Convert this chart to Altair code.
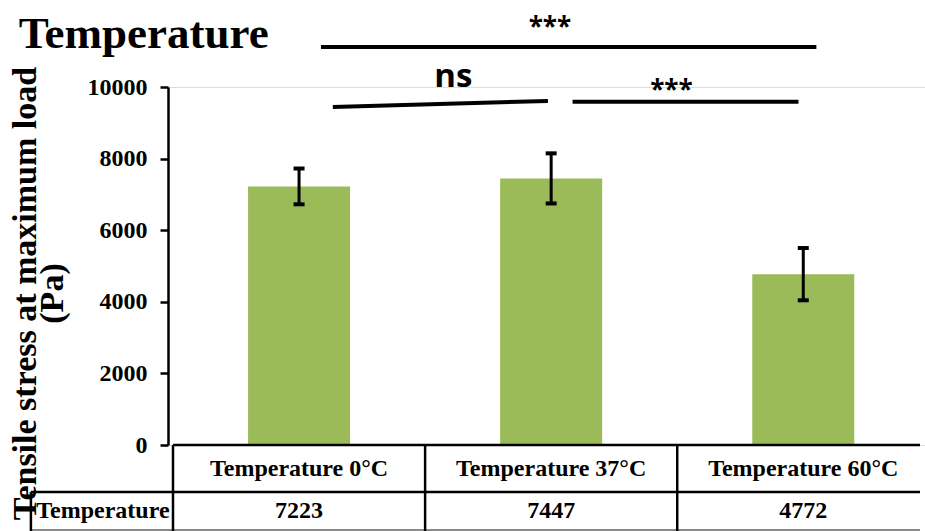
import altair as alt
import pandas as pd

# ---- data ----
chart_title = "Temperature"
categories = ["Temperature 0°C", "Temperature 37°C", "Temperature 60°C"]
means = [7223, 7447, 4772]
errors = [500, 700, 730]
y_ticks = [0, 2000, 4000, 6000, 8000, 10000]
row_label = "Temperature"

# significance brackets (x in category units, y in Pa units)
sig_x1 = [0.587, 0.634, 1.585]
sig_x2 = [2.552, 1.487, 2.481]
sig_y1 = [11120, 9440, 9590]
sig_y2 = [11120, 9610, 9590]
sig_text = ["***", "ns", "***"]
sig_tx = [1.495, 1.112, 1.977]
sig_ty = [11650, 10280, 9880]

XMAX = 2.963
SERIF = "Liberation Serif"
SANS = "Open Sans"

df = pd.DataFrame({
    "cat": categories,
    "pos": [i + 0.5 for i in range(len(categories))],
    "mean": means,
    "lo": [m - e for m, e in zip(means, errors)],
    "hi": [m + e for m, e in zip(means, errors)],
    "val": [str(m) for m in means],
})
sig_lines = pd.DataFrame({"x1": sig_x1, "x2": sig_x2, "y1": sig_y1, "y2": sig_y2})
sig_labels = pd.DataFrame({"t": sig_text, "x": sig_tx, "y": sig_ty})

xs = alt.Scale(domain=[0, XMAX], nice=False, zero=False)
ys = alt.Scale(domain=[0, 10000], nice=False)

base = alt.Chart(df)

bars = base.mark_bar(size=102, color="#9BBB59").encode(
    x=alt.X("pos:Q", scale=xs, axis=None),
    y=alt.Y("mean:Q", scale=ys, axis=alt.Axis(
        values=y_ticks, format="d", grid=False,
        title=["Tensile stress at maximum load", "(Pa)"],
        titleFont=SERIF, titleFontSize=34, titleFontWeight="bold", titleColor="black",
        titleAngle=-90, titleAlign="center", titleBaseline="top",
        titleX=-160, titleY=206, titleLineHeight=27,
        labelFont=SERIF, labelFontSize=24, labelFontWeight="bold", labelColor="black",
        labelPadding=13, domainColor="black", domainWidth=2.5,
        tickColor="black", tickWidth=2.5, tickSize=8,
    )),
)

err_line = base.mark_rule(strokeWidth=3, color="black").encode(
    x=alt.X("pos:Q", scale=xs), y=alt.Y("lo:Q", scale=ys), y2="hi:Q")
cap_hi = base.mark_tick(orient="horizontal", size=11, thickness=4, color="black", opacity=1).encode(
    x=alt.X("pos:Q", scale=xs), y=alt.Y("hi:Q", scale=ys))
cap_lo = base.mark_tick(orient="horizontal", size=11, thickness=4, color="black", opacity=1).encode(
    x=alt.X("pos:Q", scale=xs), y=alt.Y("lo:Q", scale=ys))

# chart title
title = alt.Chart(pd.DataFrame({"t": [chart_title]})).mark_text(
    font=SERIF, fontSize=45, fontWeight="bold", color="black",
    align="left", baseline="alphabetic").encode(
    x=alt.datum(-0.612), y=alt.datum(11090), text="t:N")

# significance annotations
sig = alt.Chart(sig_lines).mark_rule(strokeWidth=4, color="black").encode(
    x=alt.X("x1:Q", scale=xs), x2="x2:Q", y=alt.Y("y1:Q", scale=ys), y2="y2:Q")
stars = alt.Chart(sig_labels).transform_filter(alt.datum.t == "***").mark_text(
    font=SANS, fontSize=26, fontWeight="bold", color="black", baseline="middle").encode(
    x=alt.X("x:Q", scale=xs), y=alt.Y("y:Q", scale=ys), text="t:N")
ns = alt.Chart(sig_labels).transform_filter(alt.datum.t == "ns").mark_text(
    font=SANS, fontSize=33, fontWeight="bold", color="black", baseline="middle").encode(
    x=alt.X("x:Q", scale=xs), y=alt.Y("y:Q", scale=ys), text="t:N")

# data table under the plot
hlines = pd.DataFrame({"y": [0, -1313], "x1": [0, -0.5636], "x2": [XMAX, XMAX]})
vlines = pd.DataFrame({"x": [-0.5636, 0, 1, 2], "y1": [-1313, 0, 0, 0], "y2": [-2500] * 4})
tbl_h = alt.Chart(hlines).mark_rule(strokeWidth=2.5, color="black").encode(
    x=alt.X("x1:Q", scale=xs), x2="x2:Q", y=alt.Y("y:Q", scale=ys))
tbl_bottom = alt.Chart(hlines).transform_filter(alt.datum.y < 0).mark_rule(
    strokeWidth=2, color="#8a8a8a").encode(
    x=alt.X("x1:Q", scale=xs), x2="x2:Q", y=alt.datum(-2372))
tbl_v = alt.Chart(vlines).mark_rule(strokeWidth=2.5, color="black").encode(
    x=alt.X("x:Q", scale=xs), y=alt.Y("y1:Q", scale=ys), y2="y2:Q")
cat_text = base.mark_text(font=SERIF, fontSize=24, fontWeight="bold", color="black",
                          baseline="middle").encode(
    x=alt.X("pos:Q", scale=xs), y=alt.datum(-660), text="cat:N")
val_text = base.mark_text(font=SERIF, fontSize=24, fontWeight="bold", color="black",
                          baseline="middle").encode(
    x=alt.X("pos:Q", scale=xs), y=alt.datum(-1830), text="val:N")
row_text = alt.Chart(pd.DataFrame({"t": [row_label]})).mark_text(
    font=SERIF, fontSize=24, fontWeight="bold", color="black", baseline="middle").encode(
    x=alt.datum(-0.278), y=alt.datum(-1830), text="t:N")

chart = alt.layer(
    bars, err_line, cap_hi, cap_lo, title, sig, stars, ns,
    tbl_h, tbl_bottom, tbl_v, cat_text, val_text, row_text,
).properties(
    width=757, height=358,
    padding={"left": 168, "top": 87, "right": 0, "bottom": 86},
    autosize=alt.AutoSizeParams(type="none"),
).configure_view(stroke=None).configure(background="white")

chart.save("out.html", embed_options={"renderer": "svg", "actions": False})
